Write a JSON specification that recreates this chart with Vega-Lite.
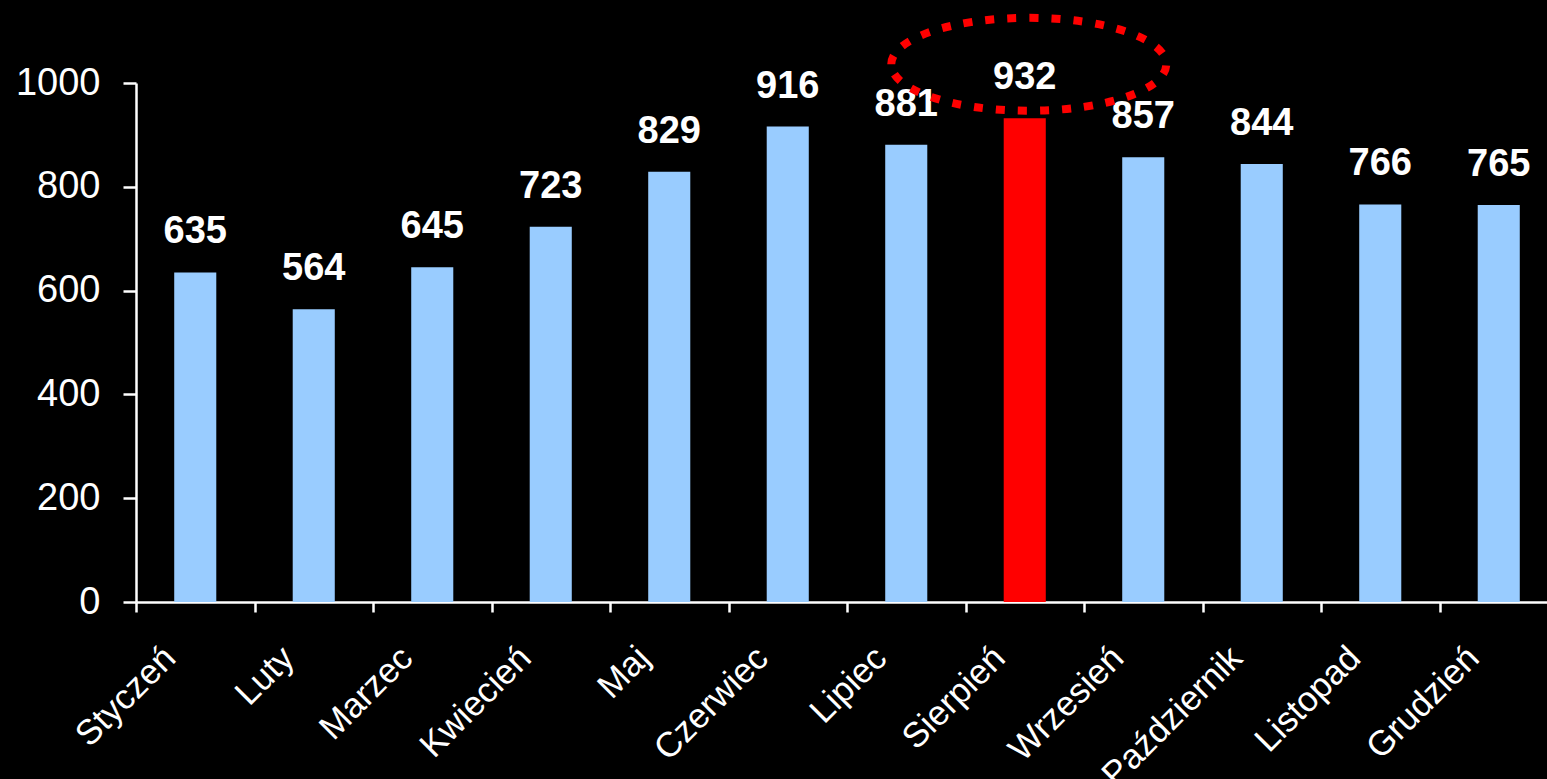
{
  "$schema": "https://vega.github.io/schema/vega-lite/v6.json",
  "width": 1411,
  "height": 519,
  "autosize": {"type": "none"},
  "padding": {"left": 136, "top": 83, "right": 0, "bottom": 177},
  "background": "#000000",
  "config": {"view": {"stroke": null}, "font": "Liberation Sans"},
  "data": {
    "values": [
      {"month": "Styczeń", "value": 635},
      {"month": "Luty", "value": 564},
      {"month": "Marzec", "value": 645},
      {"month": "Kwiecień", "value": 723},
      {"month": "Maj", "value": 829},
      {"month": "Czerwiec", "value": 916},
      {"month": "Lipiec", "value": 881},
      {"month": "Sierpień", "value": 932},
      {"month": "Wrzesień", "value": 857},
      {"month": "Październik", "value": 844},
      {"month": "Listopad", "value": 766},
      {"month": "Grudzień", "value": 765}
    ]
  },
  "encoding": {
    "x": {
      "field": "month",
      "type": "nominal",
      "sort": null,
      "scale": {"range": [0, 1422], "paddingInner": 0, "paddingOuter": 0},
      "axis": {
        "title": null,
        "tickBand": "extent",
        "labelAngle": -45,
        "labelAlign": "right",
        "labelBaseline": "top",
        "labelFontSize": 35,
        "labelColor": "#FFFFFF",
        "labelPadding": 28,
        "labelOffset": -38,
        "labelLimit": 0,
        "domainColor": "#FFFFFF",
        "domainWidth": 2.5,
        "tickColor": "#FFFFFF",
        "tickWidth": 2.5,
        "tickSize": 10,
        "labelOverlap": false,
        "grid": false
      }
    },
    "y": {
      "field": "value",
      "type": "quantitative",
      "scale": {"domain": [0, 1000], "nice": false},
      "axis": {
        "title": null,
        "values": [0, 200, 400, 600, 800, 1000],
        "format": "d",
        "labelFontSize": 38,
        "labelColor": "#FFFFFF",
        "tickSize": 13,
        "labelPadding": 23,
        "domainColor": "#FFFFFF",
        "domainWidth": 2.5,
        "tickColor": "#FFFFFF",
        "tickWidth": 2.5,
        "grid": false
      }
    }
  },
  "layer": [
    {
      "mark": {"type": "bar", "width": {"band": 0.355}},
      "encoding": {
        "color": {
          "condition": {"test": "datum.month === 'Sierpień'", "value": "#FF0000"},
          "value": "#99CCFF"
        }
      }
    },
    {
      "mark": {"type": "text", "dy": -29, "fontSize": 38, "fontWeight": "bold", "color": "#FFFFFF", "baseline": "alphabetic"},
      "encoding": {"text": {"field": "value", "type": "quantitative"}}
    },
    {
      "transform": [{"filter": "datum.month === 'Sierpień'"}],
      "mark": {
        "type": "point",
        "shape": "M-1,0C-1,-0.186,-0.552,-0.338,0,-0.338C0.552,-0.338,1,-0.186,1,0C1,0.186,0.552,0.338,0,0.338C-0.552,0.338,-1,0.186,-1,0Z",
        "size": 75625,
        "filled": false,
        "stroke": "#FF0000",
        "strokeWidth": 8,
        "strokeDash": [9, 13],
        "opacity": 1,
        "xOffset": 4,
        "yOffset": -54
      },
      "encoding": {}
    }
  ]
}
